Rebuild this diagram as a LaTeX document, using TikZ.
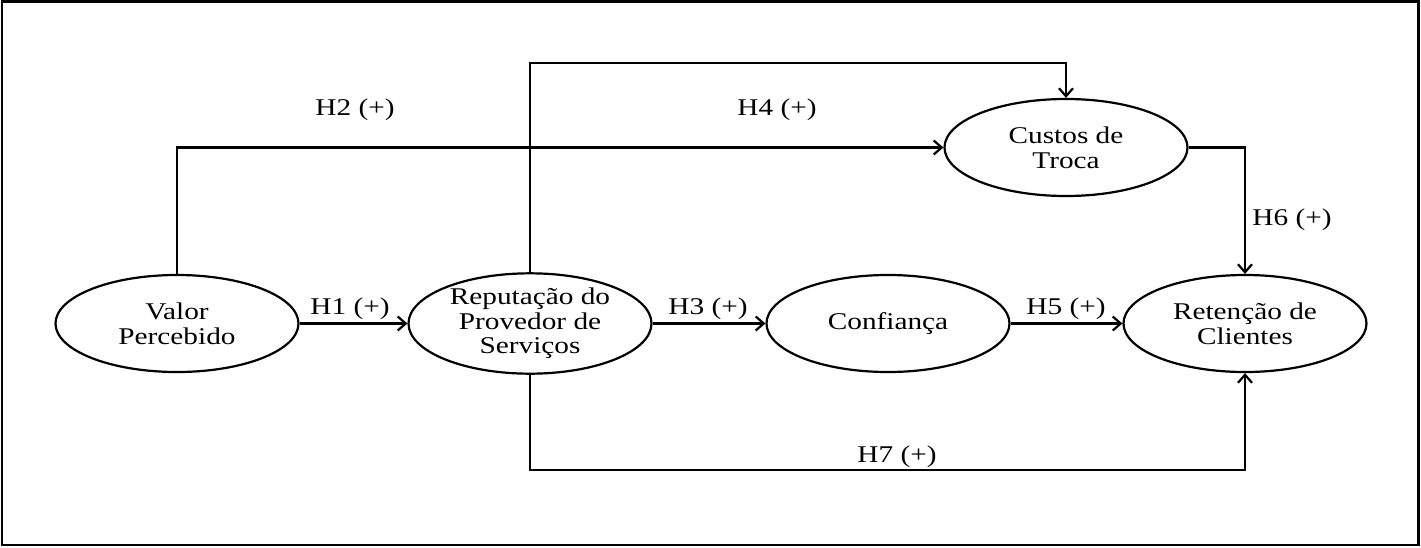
\documentclass[tikz,border=0pt]{standalone}
\usepackage{fontspec}
\setmainfont{Liberation Serif}[FakeStretch=1.22]
\usetikzlibrary{shapes.geometric,arrows.meta}
\tikzset{
  var/.style={ellipse,draw,line width=1.1pt,minimum width=121.5pt,minimum height=48.5pt,inner sep=0pt,align=center,font=\fontsize{12}{12.3}\selectfont},
  conn/.style={line width=1.1pt,-{Straight Barb[length=4pt,width=7pt]}},
  lab/.style={font=\fontsize{12}{12.3}\selectfont,inner sep=0pt}
}
\begin{document}
\begin{tikzpicture}[x=0.5pt,y=-0.5pt]
\useasboundingbox (0,0) rectangle (1421,547);
\draw[line width=1.2pt] (2,1.5) rectangle (1418.5,545);
\node[var] (vp) at (177,323.5) {Valor\\Percebido};
\node[var] (rp) at (530,323.5) {Reputação do\\Provedor de\\Serviços};
\node[var] (cf) at (888,323.5) {Confiança};
\node[var] (rc) at (1245,323.5) {Retenção de\\Clientes};
\node[var] (ct) at (1066,147.5) {Custos de\\Troca};
\draw[conn] (vp.east) -- (rp.west);
\draw[conn] (rp.east) -- (cf.west);
\draw[conn] (cf.east) -- (rc.west);
\draw[conn] (vp.north) |- (ct.west);
\coordinate (h4a) at (530,63);
\coordinate (h4b) at (1066,63);
\draw[conn] (rp.north) -- (h4a) -- (h4b) -- (ct.north);
\draw[conn] (ct.east) -| (rc.north);
\coordinate (h7a) at (530,470);
\draw[conn] (rp.south) -- (h7a) -| (rc.south);
\node[lab] (l1) at (350,309) {H1 (+)};
\node[lab] (l3) at (708,309) {H3 (+)};
\node[lab] (l5) at (1066,309) {H5 (+)};
\node[lab] (l2) at (355,110) {H2 (+)};
\node[lab] (l4) at (777,110) {H4 (+)};
\node[lab] (l6) at (1292,220) {H6 (+)};
\node[lab] (l7) at (897,457) {H7 (+)};
\end{tikzpicture}
\end{document}
